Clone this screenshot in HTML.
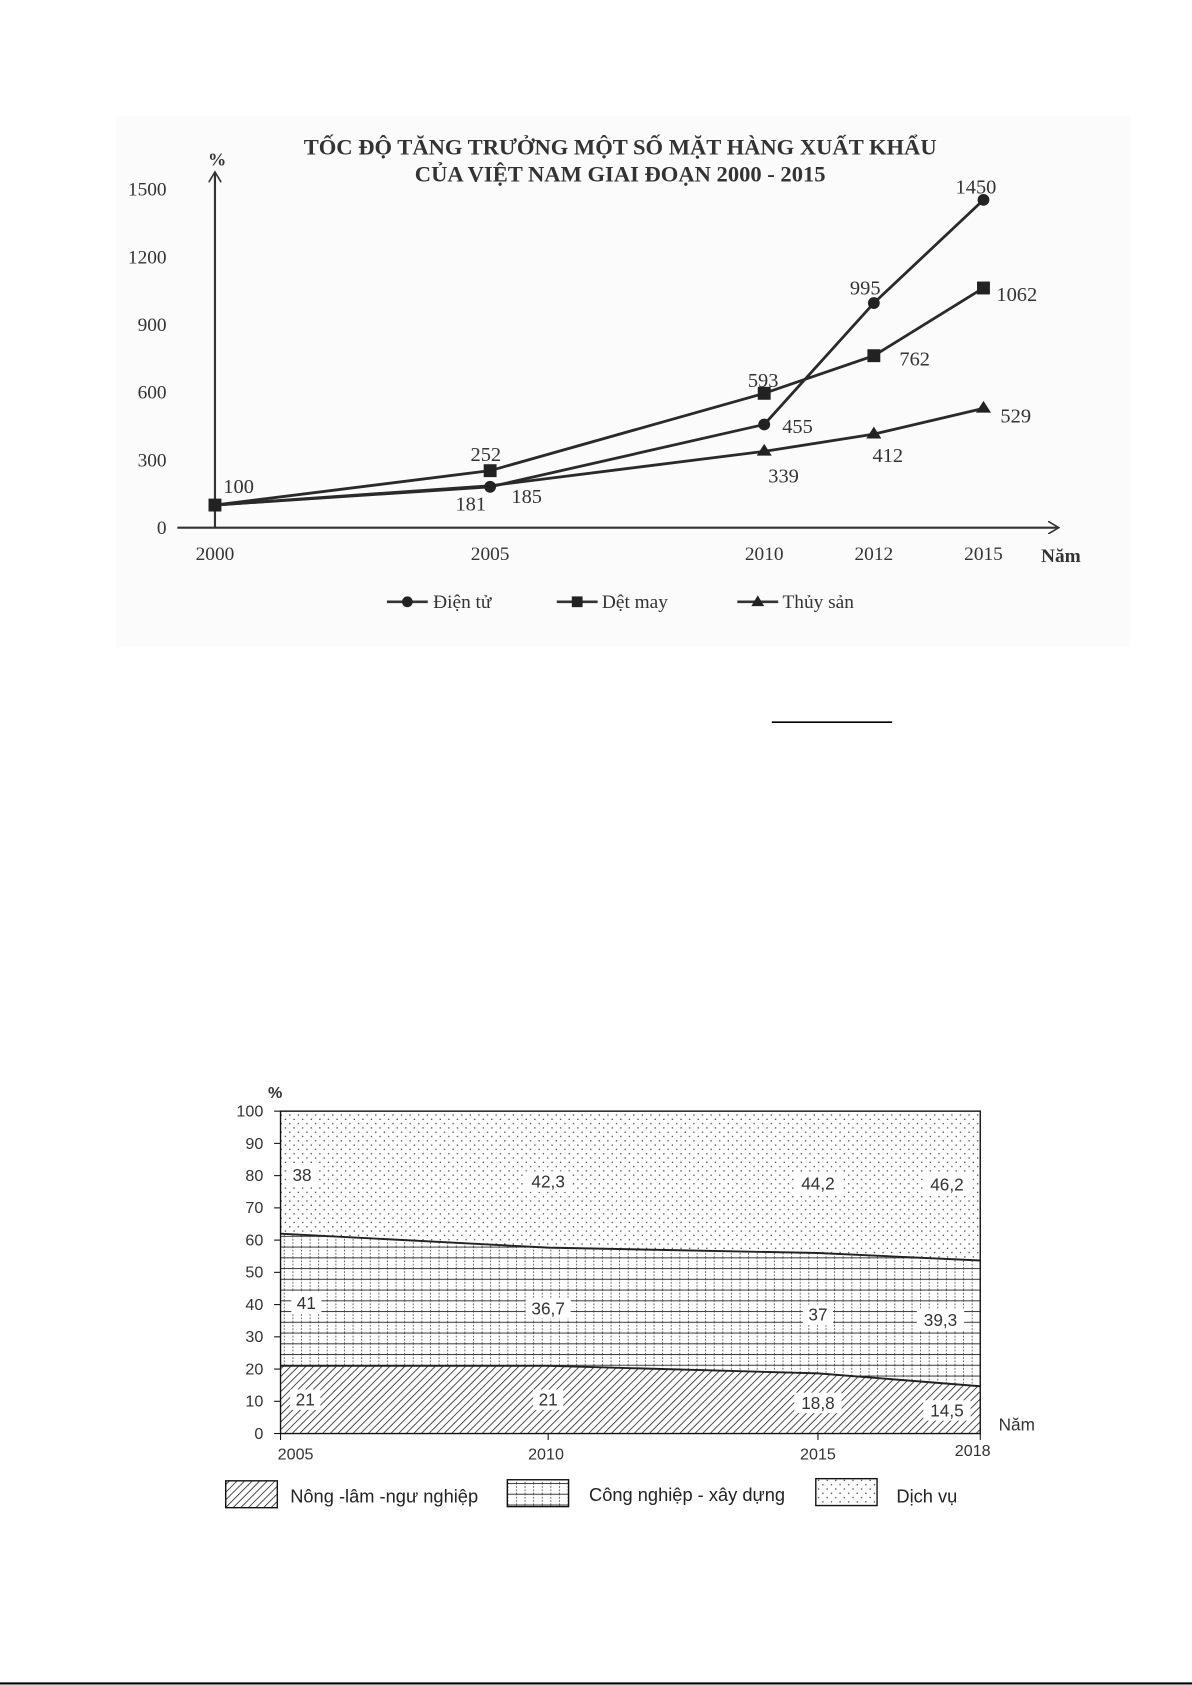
<!DOCTYPE html>
<html><head><meta charset="utf-8"><style>html,body{margin:0;padding:0;background:#fff}svg{display:block}</style></head>
<body>
<svg width="1192" height="1685" viewBox="0 0 1109 1568" preserveAspectRatio="none" xmlns="http://www.w3.org/2000/svg">
<defs>
<pattern id="dots" width="8" height="8" patternUnits="userSpaceOnUse"><rect width="8" height="8" fill="#fff"/><rect x="1" y="1" width="1.2" height="1.2" fill="#444"/><rect x="5" y="5" width="1.2" height="1.2" fill="#444"/></pattern>
<pattern id="grid" width="8" height="10" patternUnits="userSpaceOnUse"><rect width="8" height="10" fill="#fff"/><path d="M0 0.5H8" stroke="#333" stroke-width="0.9"/><path d="M0.5 0V10" stroke="#444" stroke-width="0.8" stroke-dasharray="1.5 1.5"/></pattern>
<pattern id="hatch" width="5" height="5" patternUnits="userSpaceOnUse" patternTransform="rotate(45)"><rect width="5" height="5" fill="#fff"/><path d="M0 0V5" stroke="#222" stroke-width="1.5"/></pattern>
<marker id="arr" markerWidth="12" markerHeight="12" refX="10" refY="6" orient="auto" markerUnits="userSpaceOnUse"><path d="M0 0L10 6L0 12" fill="none" stroke="#333" stroke-width="1.5"/></marker>
</defs>
<rect x="108" y="108" width="944" height="494" fill="#fbfbfb"/>
<g font-family="Liberation Serif, serif" fill="#333">
<text x="577" y="144" font-size="21" font-weight="bold" text-anchor="middle">TỐC ĐỘ TĂNG TRƯỞNG MỘT SỐ MẶT HÀNG XUẤT KHẨU</text>
<text x="577" y="169" font-size="21" font-weight="bold" text-anchor="middle">CỦA VIỆT NAM GIAI ĐOẠN 2000 - 2015</text>
<text x="202" y="154" font-size="17" font-weight="bold" text-anchor="middle">%</text>
<g font-size="18" text-anchor="end">
<text x="155" y="182">1500</text><text x="155" y="245">1200</text><text x="155" y="308">900</text><text x="155" y="371">600</text><text x="155" y="434">300</text><text x="155" y="497">0</text>
</g>
<g font-size="18" text-anchor="middle">
<text x="200" y="521">2000</text><text x="456" y="521">2005</text><text x="711" y="521">2010</text><text x="813" y="521">2012</text><text x="915" y="521">2015</text>
</g>
<text x="987" y="523" font-size="18" font-weight="bold" text-anchor="middle">Năm</text>
</g>
<g stroke="#333" stroke-width="2" fill="none">
<line x1="200" y1="491" x2="200" y2="160" marker-end="url(#arr)"/>
<line x1="165" y1="491" x2="985" y2="491" marker-end="url(#arr)"/>
</g>
<g stroke="#2a2a2a" stroke-width="2.6" fill="none">
<polyline points="200,470 456,453 711,395 813,282 915,186"/>
<polyline points="200,470 456,438 711,366 813,331 915,268"/>
<polyline points="200,470 456,452 711,420 813,404 915,380"/>
</g>
<g fill="#222">
<circle cx="456" cy="453" r="5.5"/><circle cx="711" cy="395" r="5.5"/><circle cx="813" cy="282" r="5.5"/><circle cx="915" cy="186" r="5.5"/>
<rect x="194" y="464" width="12" height="12"/><rect x="450" y="432" width="12" height="12"/><rect x="705" y="360" width="12" height="12"/><rect x="807" y="325" width="12" height="12"/><rect x="909" y="262" width="12" height="12"/>
<path d="M711 413l7 11h-14z"/><path d="M813 397l7 11h-14z"/><path d="M915 373l7 11h-14z"/>
</g>
<g font-family="Liberation Serif, serif" font-size="19" fill="#333" text-anchor="middle">
<text x="222" y="459">100</text><text x="452" y="429">252</text><text x="438" y="475">181</text><text x="490" y="468">185</text>
<text x="710" y="360">593</text><text x="742" y="403">455</text><text x="729" y="449">339</text>
<text x="805" y="274">995</text><text x="851" y="340">762</text><text x="826" y="430">412</text>
<text x="908" y="180">1450</text><text x="946" y="280">1062</text><text x="945" y="393">529</text>
</g>
<g stroke="#333" stroke-width="2.5"><line x1="360" y1="560" x2="398" y2="560"/><line x1="518" y1="560" x2="556" y2="560"/><line x1="686" y1="560" x2="724" y2="560"/></g>
<circle cx="379" cy="560" r="5" fill="#222"/><rect x="532" y="555" width="10" height="10" fill="#222"/><path d="M705 554l6 10h-12z" fill="#222"/>
<g font-family="Liberation Serif, serif" font-size="18" fill="#333"><text x="403" y="566">Điện tử</text><text x="560" y="566">Dệt may</text><text x="728" y="566">Thủy sản</text></g>
<line x1="718" y1="672" x2="830" y2="672" stroke="#000" stroke-width="1.5"/>

<rect x="261" y="1034" width="651" height="300" fill="url(#dots)"/>
<path d="M261 1148 L510 1161 L761 1166 L912 1173 L912 1334 L261 1334Z" fill="url(#grid)"/>
<path d="M261 1271 L510 1271 L761 1278 L912 1290 L912 1334 L261 1334Z" fill="url(#hatch)"/>
<path d="M261 1148 L510 1161 L761 1166 L912 1173" fill="none" stroke="#222" stroke-width="1.8"/>
<path d="M261 1271 L510 1271 L761 1278 L912 1290" fill="none" stroke="#222" stroke-width="1.8"/>
<rect x="261" y="1034" width="651" height="300" fill="none" stroke="#111" stroke-width="1.3"/>
<g stroke="#111" stroke-width="1"><line x1="255" y1="1034" x2="261" y2="1034"/><line x1="255" y1="1064" x2="261" y2="1064"/><line x1="255" y1="1094" x2="261" y2="1094"/><line x1="255" y1="1124" x2="261" y2="1124"/><line x1="255" y1="1154" x2="261" y2="1154"/><line x1="255" y1="1184" x2="261" y2="1184"/><line x1="255" y1="1214" x2="261" y2="1214"/><line x1="255" y1="1244" x2="261" y2="1244"/><line x1="255" y1="1274" x2="261" y2="1274"/><line x1="255" y1="1304" x2="261" y2="1304"/><line x1="255" y1="1334" x2="261" y2="1334"/><line x1="261" y1="1334" x2="261" y2="1340"/><line x1="510" y1="1334" x2="510" y2="1340"/><line x1="761" y1="1334" x2="761" y2="1340"/><line x1="912" y1="1334" x2="912" y2="1340"/></g>
<g font-family="Liberation Sans, sans-serif" font-size="15" fill="#333">
<text x="256" y="1022" text-anchor="middle" font-weight="bold">%</text>
<g text-anchor="end"><text x="245" y="1039">100</text><text x="245" y="1069">90</text><text x="245" y="1099">80</text><text x="245" y="1129">70</text><text x="245" y="1159">60</text><text x="245" y="1189">50</text><text x="245" y="1219">40</text><text x="245" y="1249">30</text><text x="245" y="1279">20</text><text x="245" y="1309">10</text><text x="245" y="1339">0</text></g>
<g text-anchor="middle"><text x="275" y="1358">2005</text><text x="508" y="1358">2010</text><text x="761" y="1358">2015</text><text x="905" y="1355">2018</text></g>
<text x="946" y="1331" text-anchor="middle" font-size="16">Năm</text>
</g>
<g font-family="Liberation Sans, sans-serif" font-size="16" fill="#333" text-anchor="middle">
<rect x="267" y="1084" width="28" height="19" fill="#fff"/><text x="281" y="1099">38</text>
<rect x="489" y="1090" width="42" height="19" fill="#fff"/><text x="510" y="1105">42,3</text>
<rect x="739" y="1092" width="44" height="19" fill="#fff"/><text x="761" y="1107">44,2</text>
<rect x="859" y="1093" width="44" height="19" fill="#fff"/><text x="881" y="1108">46,2</text>
<rect x="271" y="1203" width="28" height="19" fill="#fff"/><text x="285" y="1218">41</text>
<rect x="489" y="1208" width="42" height="19" fill="#fff"/><text x="510" y="1223">36,7</text>
<rect x="747" y="1214" width="28" height="19" fill="#fff"/><text x="761" y="1229">37</text>
<rect x="853" y="1219" width="44" height="19" fill="#fff"/><text x="875" y="1234">39,3</text>
<rect x="270" y="1293" width="28" height="19" fill="#fff"/><text x="284" y="1308">21</text>
<rect x="496" y="1293" width="28" height="19" fill="#fff"/><text x="510" y="1308">21</text>
<rect x="739" y="1296" width="44" height="19" fill="#fff"/><text x="761" y="1311">18,8</text>
<rect x="859" y="1303" width="44" height="19" fill="#fff"/><text x="881" y="1318">14,5</text>
</g>
<rect x="210" y="1378" width="48" height="25" fill="url(#hatch)" stroke="#111" stroke-width="1.3"/>
<rect x="472" y="1377" width="57" height="25" fill="url(#grid)" stroke="#111" stroke-width="1.3"/>
<rect x="759" y="1376" width="57" height="25" fill="url(#dots)" stroke="#111" stroke-width="1.3"/>
<g font-family="Liberation Sans, sans-serif" font-size="17" fill="#222"><text x="270" y="1398">Nông -lâm -ngư nghiệp</text><text x="548" y="1397">Công nghiệp - xây dựng</text><text x="834" y="1398">Dịch vụ</text></g>
<line x1="0" y1="1566.5" x2="1109" y2="1566.5" stroke="#000" stroke-width="2"/>
</svg>
</body></html>
